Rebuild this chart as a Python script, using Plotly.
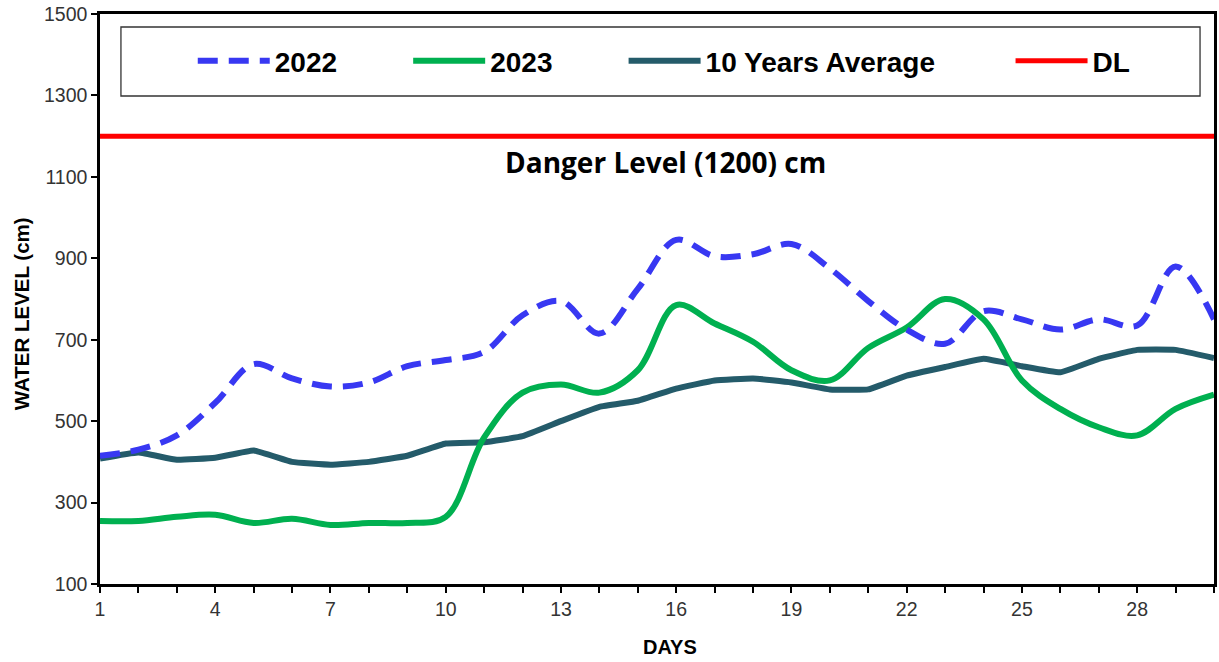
import plotly.graph_objects as go

days = list(range(1, 31))
y2022 = [415, 430, 465, 545, 640, 605, 585, 595, 635, 650,
         670, 760, 795, 715, 825, 945, 905, 910, 935, 875,
         795, 725, 690, 770, 750, 725, 750, 735, 880, 750]
y2023 = [255, 255, 265, 270, 250, 260, 245, 250, 250, 265,
         460, 570, 590, 570, 625, 785, 740, 695, 625, 600,
         680, 730, 800, 750, 600, 530, 485, 465, 530, 565]
avg10 = [408, 423, 405, 410, 428, 400, 393, 400, 415, 445,
         448, 463, 500, 535, 550, 580, 600, 605, 595, 578,
         578, 612, 633, 653, 635, 620, 653, 675, 675, 655]
DL = 1200
dl_line = [DL] * len(days)

ARIAL = "Arial, Liberation Sans, sans-serif"
C2022 = "#3838F2"
C2023 = "#00B050"
CAVG = "#245B6A"
CDL = "#FF0000"

fig = go.Figure()
fig.add_trace(go.Scatter(x=days, y=avg10, name="10 Years Average", mode="lines",
                         line=dict(color=CAVG, width=6, shape="spline", smoothing=0.3),
                         legend="legend3"))
fig.add_trace(go.Scatter(x=days, y=y2023, name="2023", mode="lines",
                         line=dict(color=C2023, width=6, shape="spline", smoothing=1.0),
                         legend="legend2"))
fig.add_trace(go.Scatter(x=days, y=y2022, name="2022", mode="lines",
                         line=dict(color=C2022, width=6, shape="spline", smoothing=1.0,
                                   dash="20px,11px"),
                         legend="legend"))
fig.add_trace(go.Scatter(x=days, y=dl_line, name="DL", mode="lines",
                         line=dict(color=CDL, width=5),
                         legend="legend4"))

W, H = 1219, 662
L, R, T, B = 100, 2, 14, 78
pw = W - L - R
ph = H - T - B


def px2paper_x(px):
    return (px - L) / pw


def px2paper_y(py):
    return (H - B - py) / ph


leg_font = dict(family=ARIAL, size=28, color="black", weight="bold")
leg_y = px2paper_y(61)
leg_common = dict(orientation="h", xref="paper", yref="paper", yanchor="middle",
                  xanchor="left", font=leg_font, itemwidth=72,
                  bgcolor="rgba(0,0,0,0)", borderwidth=0)

fig.update_layout(
    width=W, height=H,
    margin=dict(l=L, r=R, t=T, b=B),
    paper_bgcolor="white", plot_bgcolor="white",
    showlegend=True,
    legend=dict(x=px2paper_x(193), y=leg_y, **leg_common),
    legend2=dict(x=px2paper_x(409), y=leg_y, **leg_common),
    legend3=dict(x=px2paper_x(625), y=leg_y, **leg_common),
    legend4=dict(x=px2paper_x(1013), y=leg_y, **leg_common),
    xaxis=dict(range=[1, 30], tick0=1, dtick=3, showgrid=False, zeroline=False,
               showline=True, linecolor="black", linewidth=2.5, mirror=True,
               ticks="outside", ticklen=6, tickwidth=1.5, tickcolor="black",
               tickfont=dict(family=ARIAL, size=19.5, color="#333333"),
               minor=dict(dtick=1, tick0=1, ticks="outside", ticklen=6, tickwidth=1.5,
                          tickcolor="black", showgrid=False)),
    yaxis=dict(range=[100, 1500], tick0=100, dtick=200, showgrid=False, zeroline=False,
               showline=True, linecolor="black", linewidth=2.5, mirror=True,
               ticks="outside", ticklen=6, tickwidth=1.5, tickcolor="black",
               ticklabeloverflow="allow",
               tickfont=dict(family=ARIAL, size=19.5, color="#333333")),
    shapes=[dict(type="rect", xref="paper", yref="paper",
                 x0=px2paper_x(121), x1=px2paper_x(1203),
                 y0=px2paper_y(96), y1=px2paper_y(27),
                 line=dict(color="#333333", width=1.3), fillcolor="rgba(0,0,0,0)",
                 layer="below")],
    annotations=[
        dict(text="Danger Level (1200) cm", x=15.72, y=1136, xref="x", yref="y",
             showarrow=False, xanchor="center", yanchor="middle",
             font=dict(family="Open Sans, sans-serif", size=28, color="black",
                       weight="bold")),
        dict(text="WATER LEVEL (cm)", textangle=-90, xref="paper", yref="paper",
             x=px2paper_x(21), y=px2paper_y(314), xanchor="center", yanchor="middle",
             showarrow=False,
             font=dict(family=ARIAL, size=20.5, color="black", weight="bold")),
        dict(text="DAYS", xref="paper", yref="paper",
             x=px2paper_x(672), y=px2paper_y(647), xanchor="center", yanchor="middle",
             showarrow=False,
             font=dict(family=ARIAL, size=20, color="black", weight="bold")),
    ],
)

fig.write_html("out.html",
               config={"displayModeBar": False},
               post_script="document.body.style.margin='0';document.body.style.overflow='hidden';")
